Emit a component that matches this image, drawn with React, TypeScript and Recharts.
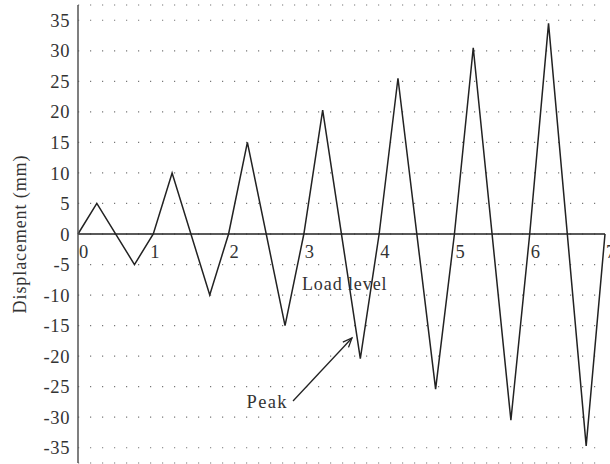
import { LineChart, Line, XAxis, YAxis, CartesianGrid, ReferenceLine, ReferenceDot } from "recharts";

// Cyclic loading protocol: displacement amplitude at each load level
const loadLevels = [0, 0.25, 0.75, 1, 1.25, 1.75, 2, 2.25, 2.75, 3, 3.25, 3.75, 4, 4.25, 4.75, 5, 5.25, 5.75, 6, 6.25, 6.75, 7];
const displacement = [0, 5, -5, 0, 10, -10, 0, 15, -15, 0, 20.3, -20.4, 0, 25.5, -25.4, 0, 30.5, -30.5, 0, 34.5, -34.7, 0];

const xTicks = [0, 1, 2, 3, 4, 5, 6, 7];
const yTicks = [-35, -30, -25, -20, -15, -10, -5, 0, 5, 10, 15, 20, 25, 30, 35];

// annotation arrow: from the "Peak" label towards the trough
const peakArrow = [
  { x: 2.856, y: -27.35 },
  { x: 3.639, y: -17.03 },
];

const FONT = "'Liberation Serif', 'Times New Roman', serif";
const INK = "#222";
const TEXT = "#333";

const data = loadLevels.map((x, i) => ({ x, y: displacement[i] }));

const YLabel = (props: any) => {
  const vb = props.viewBox;
  const cx = 20;
  const cy = vb.y + vb.height / 2;
  return (
    <text
      x={cx}
      y={cy}
      transform={`rotate(-90 ${cx} ${cy})`}
      textAnchor="middle"
      dominantBaseline="central"
      fill={TEXT}
      fontFamily={FONT}
      fontSize={18}
      letterSpacing={0.9}
    >
      Displacement (mm)
    </text>
  );
};

const Arrow = (props: any) => {
  const { x1, y1, x2, y2 } = props;
  const ang = Math.atan2(y2 - y1, x2 - x1);
  const len = 10;
  const spread = 0.4;
  const a1x = x2 - len * Math.cos(ang - spread);
  const a1y = y2 - len * Math.sin(ang - spread);
  const a2x = x2 - len * Math.cos(ang + spread);
  const a2y = y2 - len * Math.sin(ang + spread);
  return (
    <g stroke={INK} strokeWidth={1.3} fill="none">
      <line x1={x1} y1={y1} x2={x2} y2={y2} />
      <polyline points={`${a1x},${a1y} ${x2},${y2} ${a2x},${a2y}`} />
    </g>
  );
};

const App = () => {
  return (
    <div style={{ position: "absolute", left: 0, top: 0, background: "#fff" }}>
      <LineChart width={610} height={464} data={data} margin={{ top: 5, right: 5, bottom: 1, left: 0 }}>
        <CartesianGrid vertical={false} stroke="#777" strokeWidth={1.2} strokeDasharray="1.2 10.8" />
        <XAxis dataKey="x" type="number" domain={[0, 7]} ticks={xTicks} hide />
        <YAxis
          type="number"
          domain={[-37.5, 37.5]}
          ticks={yTicks}
          interval={0}
          width={78}
          tickLine={false}
          axisLine={{ stroke: "#555", strokeWidth: 1.5 }}
          tick={{ fill: TEXT, fontSize: 18.5, fontFamily: FONT, letterSpacing: 0.6 }}
          label={<YLabel />}
        />
        <ReferenceLine y={0} stroke={INK} strokeWidth={1.4} />
        {xTicks.map((t) => (
          <ReferenceDot
            key={t}
            x={t}
            y={0}
            r={0}
            fill="none"
            stroke="none"
            label={(p: any) => (
              <text x={p.viewBox.x + (t === 1 ? -3 : 1)} y={p.viewBox.y + 24} fill={TEXT} fontFamily={FONT} fontSize={18.5}>
                {t}
              </text>
            )}
          />
        ))}
        <ReferenceDot
          x={2.975}
          y={-9.2}
          r={0}
          fill="none"
          stroke="none"
          label={(p: any) => (
            <text x={p.viewBox.x} y={p.viewBox.y} fill={TEXT} fontFamily={FONT} fontSize={18} letterSpacing={0.9}>
              Load level
            </text>
          )}
        />
        <ReferenceDot
          x={peakArrow[0].x}
          y={peakArrow[0].y}
          r={0}
          fill="none"
          stroke="none"
          label={(p: any) => (
            <text x={p.viewBox.x - 5} y={p.viewBox.y + 7} textAnchor="end" fill={TEXT} fontFamily={FONT} fontSize={18.5} letterSpacing={1.4}>
              Peak
            </text>
          )}
        />
        <ReferenceLine segment={peakArrow} shape={<Arrow />} />
        <Line
          type="linear"
          dataKey="y"
          stroke={INK}
          strokeWidth={1.5}
          dot={false}
          activeDot={false}
          isAnimationActive={false}
        />
      </LineChart>
    </div>
  );
};

export default App;
